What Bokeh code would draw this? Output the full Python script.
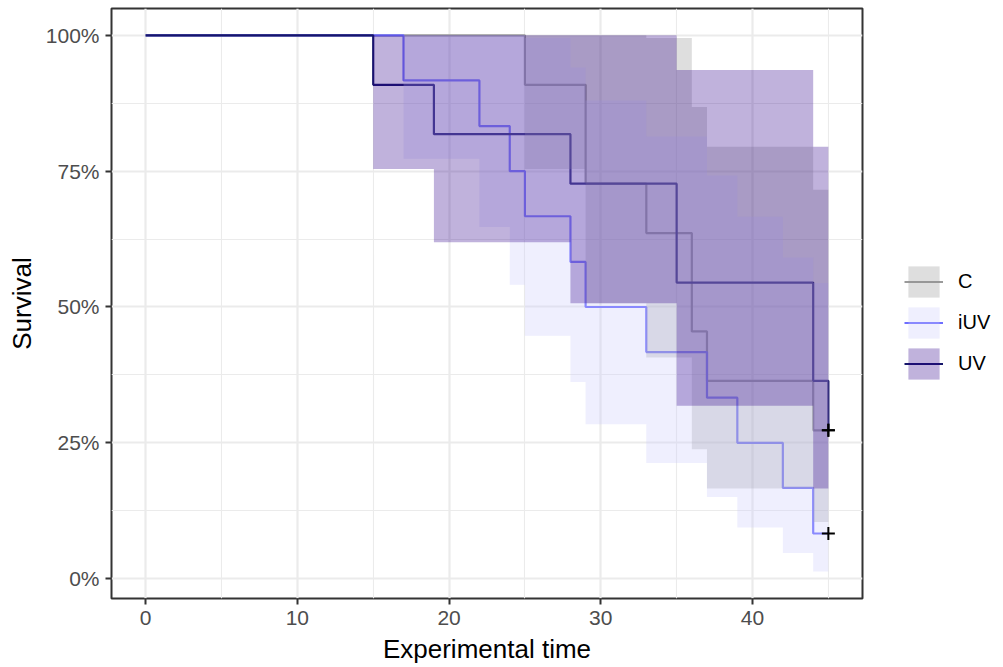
from bokeh.plotting import figure
from bokeh.models import FixedTicker, NumeralTickFormatter, Legend, LegendItem, Range1d
from bokeh.embed import file_html
from bokeh.resources import INLINE

# ---- data (Kaplan-Meier estimates with confidence bands) ----
C_time = [0, 25, 29, 33, 36, 37, 44, 45]
C_surv = [1.0, 0.909, 0.727, 0.636, 0.455, 0.364, 0.273, 0.273]
C_upper = [1.0, 1.0, 1.0, 0.995, 0.868, 0.795, 0.716, 0.716]
C_lower = [1.0, 0.754, 0.507, 0.407, 0.238, 0.166, 0.104, 0.104]

iUV_time = [0, 17, 22, 24, 25, 28, 29, 33, 37, 39, 42, 44, 45]
iUV_surv = [1.0, 0.917, 0.833, 0.750, 0.667, 0.583, 0.500, 0.417, 0.333, 0.250, 0.167, 0.083, 0.083]
iUV_upper = [1.0, 1.0, 1.0, 1.0, 0.995, 0.941, 0.880, 0.814, 0.742, 0.666, 0.591, 0.544, 0.544]
iUV_lower = [1.0, 0.773, 0.647, 0.541, 0.447, 0.362, 0.284, 0.213, 0.150, 0.094, 0.047, 0.013, 0.013]

UV_time = [0, 15, 19, 28, 35, 44, 45]
UV_surv = [1.0, 0.909, 0.818, 0.727, 0.545, 0.364, 0.273]
UV_upper = [1.0, 1.0, 1.0, 1.0, 0.936, 0.795, 0.716]
UV_lower = [1.0, 0.754, 0.619, 0.507, 0.318, 0.166, 0.104]

censor_time = [45, 45, 45]
censor_surv = [0.273, 0.083, 0.273]

group_names = ["C", "iUV", "UV"]
x_ticks = [0, 10, 20, 30, 40]
x_minor = [5, 15, 25, 35, 45]
y_ticks = [0, 0.25, 0.5, 0.75, 1.0]
y_minor = [0.125, 0.375, 0.625, 0.875]

line_colors = {"C": "#9A9A9A", "iUV": "#6E6EFF", "UV": "#16166A"}
fill_colors = {"C": "#919191", "iUV": "#CACAFC", "UV": "#2D008A"}

FONT = "Liberation Sans"

p = figure(frame_width=751, frame_height=590, output_backend="svg", toolbar_location=None,
           x_range=Range1d(-2.25, 47.25), y_range=Range1d(-0.0366, 1.0494),
           min_border_left=111, min_border_right=0, min_border_top=8,
           min_border_bottom=69, background_fill_color="white",
           border_fill_color="white")

series = {
    "C": (C_time, C_surv, C_upper, C_lower),
    "iUV": (iUV_time, iUV_surv, iUV_upper, iUV_lower),
    "UV": (UV_time, UV_surv, UV_upper, UV_lower),
}

lines = {}
for g in group_names:
    t, s, u, l = series[g]
    lines[g] = p.step(t, s, mode="after", line_color=line_colors[g], line_width=2.2)

bands = {}
for g in group_names:
    t, s, u, l = series[g]
    bands[g] = p.varea_step(x=t, y1=l, y2=u, step_mode="after",
                            fill_color=fill_colors[g], fill_alpha=0.3)

p.scatter(censor_time, censor_surv, marker="cross", size=13, line_color="black",
          line_width=2)

# axes
p.xaxis.ticker = FixedTicker(ticks=x_ticks, minor_ticks=x_minor)
p.yaxis.ticker = FixedTicker(ticks=y_ticks, minor_ticks=y_minor)
p.yaxis.formatter = NumeralTickFormatter(format="0%")
p.xaxis.axis_label = "Experimental time"
p.yaxis.axis_label = "Survival"
for ax in (p.xaxis, p.yaxis):
    ax.axis_line_color = None
    ax.major_tick_line_color = "#333333"
    ax.major_tick_line_width = 2
    ax.major_tick_out = 6
    ax.major_tick_in = 0
    ax.minor_tick_line_color = None
    ax.major_label_text_font = FONT
    ax.major_label_text_font_size = "21px"
    ax.major_label_text_color = "#4D4D4D"
    ax.major_label_standoff = 6
    ax.axis_label_text_font = FONT
    ax.axis_label_text_font_size = "26px"
    ax.axis_label_text_font_style = "normal"
    ax.axis_label_text_color = "black"
    ax.axis_label_standoff = 6

for gr in (p.xgrid, p.ygrid):
    gr.grid_line_color = "#EBEBEB"
    gr.grid_line_width = 2.2
    gr.minor_grid_line_color = "#EBEBEB"
    gr.minor_grid_line_width = 1.1

p.outline_line_color = "#333333"
p.outline_line_width = 2
p.outline_line_alpha = 1

legend = Legend(items=[LegendItem(label=g, renderers=[lines[g], bands[g]]) for g in group_names],
                location="center_left", orientation="vertical",
                title=" ", title_text_font_size="20px", title_standoff=16,
                glyph_width=39, glyph_height=39, spacing=2, padding=0, margin=42,
                label_standoff=15, label_text_font=FONT, label_text_font_size="20px",
                label_text_color="black", border_line_color=None,
                background_fill_alpha=0)
p.add_layout(legend, "right")

open("out.html", "w").write(file_html(p, INLINE))
